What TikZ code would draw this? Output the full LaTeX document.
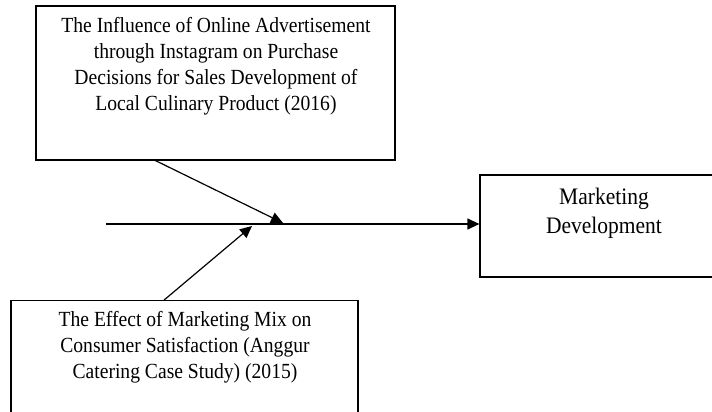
\documentclass[tikz,border=0pt]{standalone}
\usepackage{fontspec}
\setmainfont{Liberation Serif}
\usetikzlibrary{positioning}
\usetikzlibrary{arrows.meta}
\newcommand\boxline{1.2pt}
\newcommand\tallertext[1]{\scalebox{1}[1.1]{\begin{tabular}{@{}c@{}}#1\end{tabular}}}
\tikzset{
    refbox/.style = {draw, line width=\boxline, rectangle, inner sep=0pt},
    reftext/.style = {align=center, font=\fontsize{19.6pt}{23.6pt}\selectfont, inner sep=0pt},
    flow/.style = {->, >={Triangle[length=12pt,width=11pt]}, line width=\boxline},
}

\begin{document}
\begin{tikzpicture}[x=1pt, y=-1pt]
    \clip (0,0) rectangle (712,412);
    % --- Top box
    \node [refbox, minimum width=359pt, minimum height=154pt] (infl) at (215.5,83) {};
    \node [reftext] (infltext) at (216,66.5) {\tallertext{The Influence of Online Advertisement\\through Instagram on Purchase\\Decisions for Sales Development of\\Local Culinary Product (2016)}};
    % --- Bottom box
    \node [refbox, minimum width=347pt, minimum height=150pt] (effect) at (184.5,375.7) {};
    \node [reftext] (effecttext) at (185,347) {\tallertext{The Effect of Marketing Mix on\\Consumer Satisfaction (Anggur\\Catering Case Study) (2015)}};
    % --- Right box
    \node [refbox, minimum width=248pt, minimum height=102pt] (mkt) at (604,226) {};
    \node [reftext, font=\fontsize{21.5pt}{27pt}\selectfont] (mkttext) at (604,213) {\tallertext{Marketing\\Development}};
    % --- Main line
    \coordinate (start) at (106,224);
    \draw [flow] (start) -- (start -| mkt.west);
    % --- Branches
    \coordinate (hittop) at (283,223);
    \coordinate (hitbottom) at (252,226);
    \draw [flow] ([xshift=-60pt]infl.south) -- (hittop);
    \draw [flow] ([xshift=-20.5pt]effect.north) -- (hitbottom);
\end{tikzpicture}
\end{document}
